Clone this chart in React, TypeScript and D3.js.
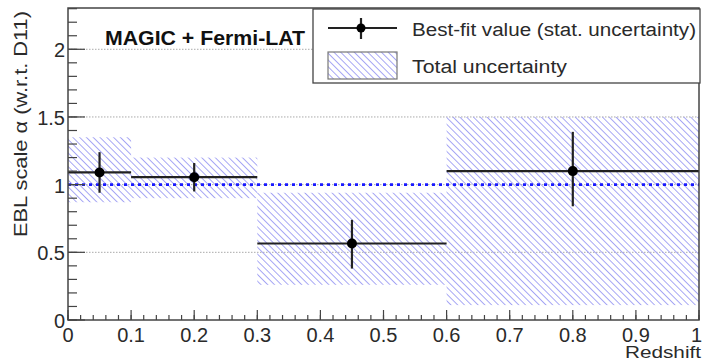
import React from "react";
import * as d3 from "d3";

const binLow = [0.0, 0.1, 0.3, 0.6];
const binHigh = [0.1, 0.3, 0.6, 1.0];
const bestFit = [1.09, 1.055, 0.565, 1.1];
const statLow = [0.94, 0.95, 0.38, 0.84];
const statHigh = [1.24, 1.16, 0.74, 1.39];
const totLow = [0.87, 0.9, 0.26, 0.11];
const totHigh = [1.35, 1.2, 0.94, 1.5];
const xTicks = [0, 0.1, 0.2, 0.3, 0.4, 0.5, 0.6, 0.7, 0.8, 0.9, 1];
const yTicks = [0, 0.5, 1, 1.5, 2];
const yGrid = [0.5, 1, 1.5, 2];

const W = 702, H = 361;
const X0 = 68, X1 = 699, Y0 = 320, YT = 8;
const Y_MAX = 2.305;

export default function App() {
  const x = d3.scaleLinear().domain([0, 1]).range([X0, X1]);
  const y = d3.scaleLinear().domain([0, Y_MAX]).range([Y0, YT]);
  const xMinor = d3.range(0, 1.0001, 0.02);
  const yMinor = d3.range(0, Y_MAX, 0.1);
  const font = "'Liberation Sans', Arial, Helvetica, sans-serif";
  const axisColor = "#444";
  const txt = "#2a2a2a";
  const fmt = (v: number) => String(v);

  return (
    <svg width={W} height={H} style={{ position: "absolute", left: 0, top: 0, background: "#fff" }} fontFamily={font}>
      <defs>
        <pattern id="hatch" patternUnits="userSpaceOnUse" width="4.8" height="4.8" patternTransform="rotate(45)">
          <line x1="0" y1="2.4" x2="4.8" y2="2.4" stroke="#a4a4f4" strokeWidth="1" />
        </pattern>
        <clipPath id="frameClip">
          <rect x={X0} y={YT} width={X1 - X0} height={Y0 - YT} />
        </clipPath>
      </defs>
      <rect x={0} y={0} width={W} height={H} fill="#fff" />

      {/* grid lines */}
      {yGrid.map((v) => (
        <line key={"g" + v} x1={X0} x2={X1} y1={y(v)} y2={y(v)} stroke="#aaa" strokeWidth={1} strokeDasharray="1.5 1.5" />
      ))}

      {/* total uncertainty boxes */}
      <g clipPath="url(#frameClip)">
        {binLow.map((lo, i) => (
          <rect key={"b" + i} x={x(lo)} y={y(totHigh[i])} width={x(binHigh[i]) - x(lo)} height={y(totLow[i]) - y(totHigh[i])} fill="url(#hatch)" />
        ))}
      </g>

      {/* reference line */}
      <line x1={X0} x2={X1} y1={y(1)} y2={y(1)} stroke="#1a1aff" strokeWidth={2.6} strokeDasharray="3 4" />

      {/* best-fit with stat errors */}
      {binLow.map((lo, i) => {
        const cx = x((lo + binHigh[i]) / 2);
        return (
          <g key={"p" + i}>
            <line x1={x(lo)} x2={x(binHigh[i])} y1={y(bestFit[i])} y2={y(bestFit[i])} stroke="#222" strokeWidth={2.2} />
            <line x1={cx} x2={cx} y1={y(statHigh[i])} y2={y(statLow[i])} stroke="#222" strokeWidth={2.2} />
            <circle cx={cx} cy={y(bestFit[i])} r={5} fill="#000" />
          </g>
        );
      })}

      {/* frame */}
      <rect x={X0} y={YT} width={X1 - X0} height={Y0 - YT} fill="none" stroke={axisColor} strokeWidth={1.5} />

      {/* y ticks */}
      {yMinor.map((v, i) => (
        <line key={"ym" + i} x1={X0} x2={X0 + 9} y1={y(v)} y2={y(v)} stroke={axisColor} strokeWidth={1.2} />
      ))}
      {yTicks.map((v) => (
        <line key={"yM" + v} x1={X0} x2={X0 + 17} y1={y(v)} y2={y(v)} stroke={axisColor} strokeWidth={1.2} />
      ))}
      {yTicks.map((v) => (
        <text key={"yl" + v} x={65} y={y(v) + 8} textAnchor="end" fontSize={20} fill={txt}>{fmt(v)}</text>
      ))}

      {/* x ticks */}
      {xMinor.map((v, i) => (
        <line key={"xm" + i} x1={x(v)} x2={x(v)} y1={Y0} y2={Y0 - 5} stroke={axisColor} strokeWidth={1.2} />
      ))}
      {xTicks.map((v) => (
        <line key={"xM" + v} x1={x(v)} x2={x(v)} y1={Y0} y2={Y0 - 10} stroke={axisColor} strokeWidth={1.2} />
      ))}
      {xTicks.map((v, i) => (
        <text key={"xl" + v} x={i === xTicks.length - 1 ? 702 : x(v)} y={342}
          textAnchor={i === xTicks.length - 1 ? "end" : "middle"} fontSize={20} fill={txt}>{fmt(v)}</text>
      ))}

      {/* axis titles */}
      <text x={701} y={358} textAnchor="end" fontSize={16} fill={txt} textLength={76} lengthAdjust="spacingAndGlyphs">Redshift</text>
      <text transform={`translate(27,124) rotate(-90)`} textAnchor="middle" fontSize={18} fill={txt}
        textLength={226} lengthAdjust="spacingAndGlyphs">EBL scale α (w.r.t. D11)</text>

      {/* label */}
      <text x={105} y={45} fontSize={20} fontWeight="bold" fill="#111" textLength={200} lengthAdjust="spacingAndGlyphs">MAGIC + Fermi-LAT</text>

      {/* legend */}
      <rect x={313} y={9} width={387} height={74} fill="#fff" stroke={axisColor} strokeWidth={1.3} />
      <line x1={328} x2={397} y1={28} y2={28} stroke="#222" strokeWidth={2.2} />
      <line x1={361} x2={361} y1={18} y2={39} stroke="#222" strokeWidth={2.2} />
      <circle cx={361} cy={28} r={4.5} fill="#000" />
      <text x={412} y={36} fontSize={18} fill={txt} textLength={284} lengthAdjust="spacingAndGlyphs">Best-fit value (stat. uncertainty)</text>
      <rect x={328} y={52} width={69} height={27} fill="url(#hatch)" stroke="#777" strokeWidth={1.2} />
      <text x={412} y={73} fontSize={18} fill={txt} textLength={155} lengthAdjust="spacingAndGlyphs">Total uncertainty</text>
    </svg>
  );
}
